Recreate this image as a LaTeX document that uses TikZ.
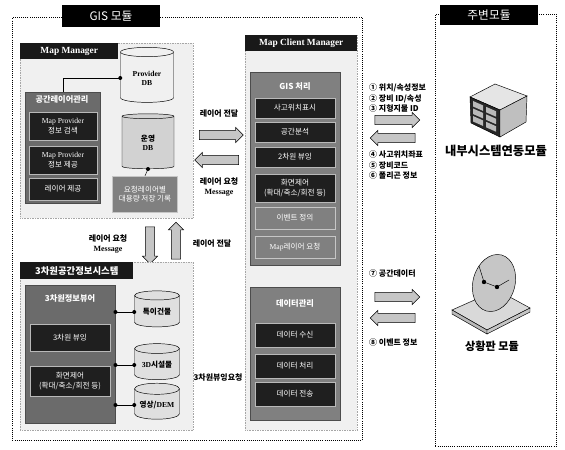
\documentclass[tikz,border=0pt]{standalone}
\usepackage{fontspec}
\setmainfont{Noto Sans CJK KR}
\newfontfamily\latinserif{Liberation Serif}
\usetikzlibrary{shapes.geometric,shapes.arrows,positioning}

\newcommand{\boxfont}{\fontsize{6.5}{8}\selectfont}
\newcommand{\lblfont}{\fontsize{6.8}{8.6}\selectfont\bfseries}

\begin{document}
\begin{tikzpicture}[x=0.3mm,y=-0.3mm,
  frame/.style={draw, densely dotted, thick, anchor=north west, inner sep=0pt},
  titlebox/.style={fill=black, text=white, inner sep=0pt, font=\fontsize{10}{12}\selectfont},
  headbox/.style={fill=black!90, text=white, anchor=north west, inner sep=0pt,
    font=\fontsize{8}{10}\selectfont\latinserif\bfseries},
  panel/.style={draw=gray!70, densely dotted, fill=gray!12, anchor=north west, inner sep=0pt},
  group/.style={draw=black!70, fill=black!58, anchor=north west, inner sep=0pt},
  grouptitle/.style={text=white, font=\fontsize{7}{8}\selectfont\bfseries},
  darkbox/.style={draw=gray!55, fill=black!88, text=white, font=\boxfont, align=center,
    minimum width=24mm, inner sep=1pt},
  midbox/.style={darkbox, fill=black!50, draw=gray!45},
  db/.style={cylinder, shape border rotate=90, aspect=0.3, draw, fill=gray!25,
    font=\fontsize{6.5}{7.5}\selectfont\bfseries, align=center, inner sep=1pt},
  fatarrow/.style={single arrow, draw, fill=gray!45, minimum height=13.2mm,
    inner sep=1.3mm, single arrow head extend=0.9mm},
  lbl/.style={font=\lblfont, align=center},
  sidelbl/.style={font=\lblfont, align=left, anchor=west},
  joint/.style={circle, fill=black, inner sep=0pt, minimum size=1.2mm}]

  \useasboundingbox (0,0) rectangle (565,450);

  % GIS module frame
  \node[frame, minimum width=105mm, minimum height=126.9mm] (gis) at (12,17) {};
  \node[titlebox, minimum width=29.4mm, minimum height=6.6mm] (gistitle) at (111,16) {GIS 모듈};

  % Map Manager
  \node[panel, minimum width=51.9mm, minimum height=52.5mm] (mapmgr) at (20,43) {};
  \node[headbox, minimum width=29.4mm, minimum height=4.8mm] (mapmgrt) at (20,43) {Map Manager};

  \node[group, minimum width=22.5mm, minimum height=33.3mm] (layermgr) at (25,92) {};
  \node[grouptitle] (layermgrt) at (62,99) {공간레이어관리};
  \node[darkbox, minimum width=20.4mm, minimum height=8.4mm] (search) at (63,126)
    {{\latinserif Map Provider}\\정보 검색};
  \node[darkbox, minimum width=20.4mm, minimum height=8.4mm] (provide) at (63,160)
    {{\latinserif Map Provider}\\정보 제공};
  \node[darkbox, minimum width=20.4mm, minimum height=6.6mm] (layer) at (63,189) {레이어 제공};

  \node[db, fill=gray!12, minimum width=15.9mm, minimum height=16.5mm] (provdb) at (147,78)
    {{\latinserif Provider}\\{\latinserif DB}};
  \node[db, fill=gray!35, minimum width=15.6mm, minimum height=16.5mm] (opdb) at (148,143) {운영\\{\latinserif DB}};
  \node[midbox, minimum width=19.5mm, minimum height=10.8mm] (store) at (145,194)
    {요청레이어별\\대용량 저장 기록};

  \draw (layermgr.north) |- (provdb.west) node[joint] {};
  \draw (opdb.south) node[joint] {} -- (store.north);

  % Map Manager <-> Map Client Manager
  \node[fatarrow] (tocl) at (219,135) {};
  \node[fatarrow, shape border rotate=180] (tomm) at (219,160) {};
  \node[lbl] (toclt) at (219,114) {레이어 전달};
  \node[lbl] (tommt) at (219,187) {레이어 요청\\{\latinserif Message}};

  % Map Manager <-> 3D system
  \node[fatarrow, minimum height=11.1mm, shape border rotate=270] (to3d) at (150,243) {};
  \node[fatarrow, minimum height=11.1mm, shape border rotate=90] (from3d) at (176,243) {};
  \node[lbl] (to3dt) at (108,244) {레이어 요청\\{\latinserif Message}};
  \node[lbl] (from3dt) at (212,244) {레이어 전달};

  % 3D spatial information system
  \node[panel, minimum width=51.9mm, minimum height=50.4mm] (sys3d) at (20,262) {};
  \node[headbox, minimum width=33.9mm, minimum height=5.1mm,
    font=\fontsize{8}{10}\selectfont\bfseries] (sys3dt) at (20,262) {3차원공간정보시스템};

  \node[group, minimum width=27mm, minimum height=41.4mm] (viewer) at (25,285) {};
  \node[grouptitle] (viewert) at (70,298) {3차원정보뷰어};
  \node[darkbox, minimum height=8.1mm] (view3d) at (70,338) {3차원 뷰잉};
  \node[darkbox, minimum height=9mm] (ctrl3d) at (70,381) {화면제어\\(확대/축소/회전 등)};

  \node[db, minimum width=13.5mm, minimum height=10.8mm] (bldg) at (157,312) {특이건물};
  \node[db, minimum width=13.5mm, minimum height=10.8mm] (fac) at (157,365) {{\latinserif 3D}시설물};
  \node[db, minimum width=13.5mm, minimum height=10.8mm] (dem) at (157,405) {영상/{\latinserif DEM}};

  \foreach \d in {bldg,fac,dem}
    \draw (\d.west -| viewer.east) node[joint] {} -- (\d.west) node[joint] {};

  \node[lbl] (req3d) at (218,378) {3차원뷰잉요청};

  % Map Client Manager
  \node[panel, minimum width=33.6mm, minimum height=118.5mm] (client) at (245,35) {};
  \node[headbox, minimum width=33.6mm, minimum height=4.8mm] (clientt) at (245,35) {Map Client Manager};

  \node[group, fill=black!50, minimum width=27mm, minimum height=57.9mm] (gisproc) at (250,72) {};
  \node[grouptitle] (gisproct) at (295,86) {GIS 처리};
  \node[darkbox, minimum height=6mm] (acc) at (295,108) {사고위치표시};
  \node[darkbox, minimum height=6mm] (spat) at (295,132) {공간분석};
  \node[darkbox, minimum height=6mm] (view2d) at (295,157) {2차원 뷰잉};
  \node[darkbox, minimum height=8.4mm] (ctrl2d) at (295,188) {화면제어\\(확대/축소/회전 등)};
  \node[midbox, minimum height=6.6mm] (event) at (295,218) {이벤트 정의};
  \node[midbox, minimum height=6.6mm] (mapreq) at (295,247) {{\latinserif Map}레이어 요청};

  \node[group, fill=black!50, minimum width=27mm, minimum height=39.9mm] (datamgr) at (250,287) {};
  \node[grouptitle] (datamgrt) at (295,303) {데이터관리};
  \node[darkbox, minimum height=7.2mm] (recv) at (295,335) {데이터 수신};
  \node[darkbox, minimum height=7.2mm] (proc) at (295,366) {데이터 처리};
  \node[darkbox, minimum height=7.2mm] (send) at (295,394) {데이터 전송};

  % exchange with peripheral modules
  \node[sidelbl] (out1) at (365,98) {① 위치/속성정보\\② 장비 ID/속성\\③ 지형지물 ID};
  \node[fatarrow, minimum height=13.5mm] (tosys) at (395,120) {};
  \node[fatarrow, minimum height=13.5mm, shape border rotate=180] (fromsys) at (395,138) {};
  \node[sidelbl] (in1) at (365,165) {④ 사고위치좌표\\⑤ 장비코드\\⑥ 폴리곤 정보};

  \node[sidelbl] (out2) at (365,273) {⑦ 공간데이터};
  \node[fatarrow, minimum height=13.5mm] (toboard) at (395,297) {};
  \node[fatarrow, minimum height=13.5mm, shape border rotate=180] (fromboard) at (395,318) {};
  \node[sidelbl] (in2) at (365,342) {⑧ 이벤트 정보};

  % Peripheral modules
  \node[frame, minimum width=36.3mm, minimum height=129.6mm] (periph) at (435,14) {};
  \node[titlebox, minimum width=29.4mm, minimum height=6mm] (periphtitle) at (489,15) {주변모듈};

  % server cube
  \draw[fill=gray!20] (470,97) -- (495,84) -- (527,96) -- (500,110) -- cycle;
  \draw[fill=black!85] (470,97) -- (500,110) -- (500,137) -- (471,123) -- cycle;
  \draw[fill=gray!50] (500,110) -- (527,96) -- (526,122) -- (500,137) -- cycle;
  \foreach \i in {0,1}
    \foreach \j in {0,1,2}
      \fill[gray!55] ({473+\i*13},{101+\i*5.8+\j*7.5}) -- ++(10,4.4) -- ++(0,5.5) -- ++(-10,-4.4) -- cycle;
  \node[font=\fontsize{10.5}{12}\selectfont\bfseries] (sysmod) at (496,151) {내부시스템연동모듈};

  % situation board
  \draw[fill=gray!30] (452,310) -- (497,290) -- (530,308) -- (487,330) -- cycle;
  \draw[fill=gray!55] (452,310) -- (487,330) -- (487,334) -- (452,314) -- cycle;
  \draw[fill=gray!45] (487,330) -- (530,308) -- (530,312) -- (487,334) -- cycle;
  \draw[fill=gray!45, rotate around={-15:(494,283)}] (494,283) ellipse (21 and 29);
  \draw (479,266) -- (484,282) -- (497,287) -- (509,280);
  \fill (484,282) circle (2.2);
  \fill (497,287) circle (2.2);
  \node[font=\fontsize{9.5}{11}\selectfont\bfseries] (boardmod) at (492,346) {상황판 모듈};
\end{tikzpicture}
\end{document}
